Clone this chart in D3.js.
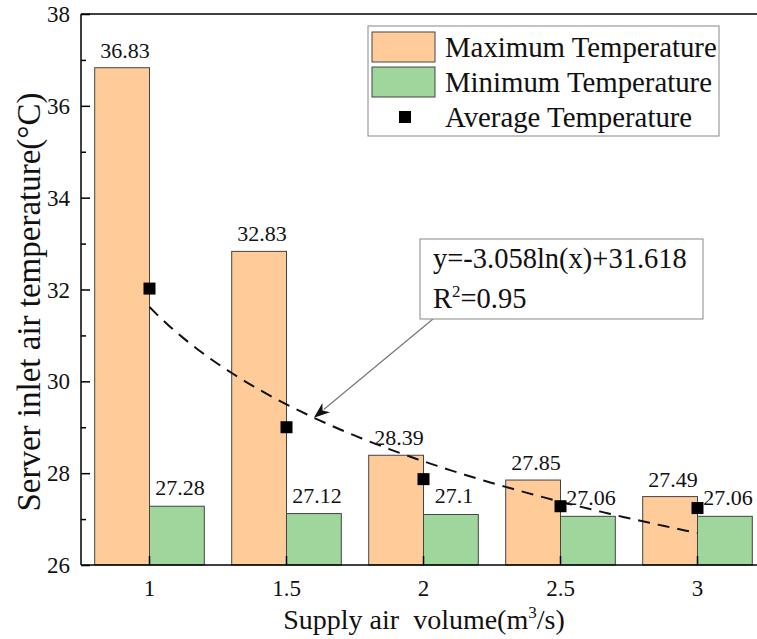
<!DOCTYPE html>
<html>
<head>
<meta charset="utf-8">
<script src="https://cdn.jsdelivr.net/npm/d3@7"></script>
<style>
  html, body { margin: 0; padding: 0; background: #fff; }
  svg { display: block; }
</style>
</head>
<body>
<svg id="chart" width="757" height="639" font-family="'Liberation Serif', 'Times New Roman', Times, serif"></svg>
<script>
// ---- data ----
const categories = ["1", "1.5", "2", "2.5", "3"];
const maxTemp = [36.83, 32.83, 28.39, 27.85, 27.49];
const minTemp = [27.28, 27.12, 27.1, 27.06, 27.06];
const avgTemp = [32.02, 29.0, 27.87, 27.28, 27.24];
const yTicks = [26, 28, 30, 32, 34, 36, 38];
const yMinorTicks = [27, 29, 31, 33, 35, 37];
const fitA = -3.058, fitB = 31.618; // y = a ln(x) + b, x = group index 1..5
const fitLabel = "y=-3.058ln(x)+31.618";
const legendLabels = ["Maximum Temperature", "Minimum Temperature", "Average Temperature"];

(function () {
// ---- layout ----
const svg = d3.select("#chart");
const pL = 81, pT = 14, pB = 565, pR = 766;
const orange = "#FFCC99", green = "#9ED69B";

const x = d3.scaleBand().domain(categories).range([pL, pR]).paddingInner(0.2).paddingOuter(0.1);
const y = d3.scaleLinear().domain([26, 38]).range([pB, pT]);
const bw = x.bandwidth() / 2;
const cx = c => x(c) + bw;

// bars
const g = svg.append("g");
g.selectAll(".bmax").data(categories).join("rect")
  .attr("x", c => x(c)).attr("width", bw)
  .attr("y", (c, i) => y(maxTemp[i])).attr("height", (c, i) => pB - y(maxTemp[i]))
  .attr("fill", orange).attr("stroke", "#444").attr("stroke-width", 1);
g.selectAll(".bmin").data(categories).join("rect")
  .attr("x", c => cx(c)).attr("width", bw)
  .attr("y", (c, i) => y(minTemp[i])).attr("height", (c, i) => pB - y(minTemp[i]))
  .attr("fill", green).attr("stroke", "#444").attr("stroke-width", 1);

// value labels
g.selectAll(".lmax").data(categories).join("text")
  .attr("x", c => x(c) + bw / 2 + 3).attr("y", (c, i) => y(maxTemp[i]) - 10)
  .attr("text-anchor", "middle").attr("font-size", 22).attr("fill", "#111")
  .text((c, i) => maxTemp[i]);
g.selectAll(".lmin").data(categories).join("text")
  .attr("x", c => cx(c) + bw / 2 + 3).attr("y", (c, i) => y(minTemp[i]) - 11)
  .attr("text-anchor", "middle").attr("font-size", 22).attr("fill", "#111")
  .text((c, i) => minTemp[i]);

// trend curve
const xi = d3.scaleLinear().domain([1, categories.length]).range([cx(categories[0]), cx(categories[categories.length - 1])]);
const fitPts = d3.range(1, 5.0001, 0.05).map(t => [xi(t), y(fitA * Math.log(t) + fitB)]);
g.append("path").attr("d", d3.line()(fitPts))
  .attr("fill", "none").attr("stroke", "#111").attr("stroke-width", 2).attr("stroke-dasharray", "12,8");

// average markers
g.selectAll(".avg").data(categories).join("rect")
  .attr("x", c => cx(c) - 6).attr("y", (c, i) => y(avgTemp[i]) - 6)
  .attr("width", 12).attr("height", 12).attr("fill", "#000");

// axes frame
svg.append("line").attr("x1", pL).attr("x2", pR).attr("y1", pT).attr("y2", pT).attr("stroke", "#000").attr("stroke-width", 1.5);
svg.append("line").attr("x1", pR).attr("x2", pR).attr("y1", pT).attr("y2", pB).attr("stroke", "#000").attr("stroke-width", 1.5);

const yAxis = svg.append("g").attr("transform", `translate(${pL},0)`)
  .call(d3.axisRight(y).tickValues(yTicks).tickSize(9).tickFormat(""));
yAxis.select(".domain").attr("stroke-width", 1.5).attr("d", `M0,${pT}V${pB}`);
yAxis.selectAll(".tick line").attr("stroke-width", 1.5);
svg.append("g").attr("transform", `translate(${pL},0)`)
  .call(d3.axisRight(y).tickValues(yMinorTicks).tickSize(5).tickFormat(""))
  .call(s => s.select(".domain").remove())
  .selectAll(".tick line").attr("stroke-width", 1.5);
svg.append("g").selectAll("text").data(yTicks).join("text")
  .attr("x", pL - 11).attr("y", d => y(d)).attr("dy", "0.35em")
  .attr("text-anchor", "end").attr("font-size", 23).attr("fill", "#111").text(d => d);

const xAxis = svg.append("g").attr("transform", `translate(0,${pB})`)
  .call(d3.axisTop(x).tickSize(9).tickFormat("").offset(0));
xAxis.selectAll(".tick").attr("transform", c => `translate(${cx(c)},0)`);
xAxis.select(".domain").attr("stroke-width", 1.5).attr("d", `M${pL},0H${pR}`);
xAxis.selectAll(".tick line").attr("stroke-width", 1.5);
svg.append("g").selectAll("text").data(categories).join("text")
  .attr("x", c => cx(c)).attr("y", pB + 31)
  .attr("text-anchor", "middle").attr("font-size", 23).attr("fill", "#111").text(c => c);

// axis titles
const xt = svg.append("text").attr("x", 424).attr("y", 629).attr("text-anchor", "middle")
  .attr("font-size", 28).attr("fill", "#111");
xt.append("tspan").text("Supply air\u00a0\u00a0volume(m");
xt.append("tspan").attr("font-size", 17).attr("dy", -11).text("3");
xt.append("tspan").attr("dy", 11).text("/s)");

svg.append("text").attr("transform", `translate(40,302) rotate(-90)`)
  .attr("text-anchor", "middle").attr("font-size", 33).attr("fill", "#111")
  .text("Server inlet air temperature(°C)");

// legend
const lg = svg.append("g");
lg.append("rect").attr("x", 368).attr("y", 26).attr("width", 351).attr("height", 110)
  .attr("fill", "#fff").attr("stroke", "#888").attr("stroke-width", 1);
lg.append("rect").attr("x", 372).attr("y", 32).attr("width", 63).attr("height", 30).attr("fill", orange).attr("stroke", "#444");
lg.append("rect").attr("x", 372).attr("y", 67).attr("width", 63).attr("height", 30).attr("fill", green).attr("stroke", "#444");
lg.append("rect").attr("x", 399).attr("y", 111).attr("width", 12).attr("height", 12).attr("fill", "#000");
lg.selectAll(".lt").data(legendLabels).join("text")
  .attr("x", 445).attr("y", (d, i) => 47 + i * 35).attr("dy", "0.35em")
  .attr("font-size", 28.8).attr("fill", "#111").text(d => d);

// annotation
const tgt = 2.2;
const tx = xi(tgt), ty = y(fitA * Math.log(tgt) + fitB);
const sx = 433, sy = 319;
const ang = Math.atan2(ty - sy, tx - sx);
const ah = 16, aw = 6;
svg.append("line").attr("x1", sx).attr("y1", sy)
  .attr("x2", tx - Math.cos(ang) * ah * 0.8).attr("y2", ty - Math.sin(ang) * ah * 0.8)
  .attr("stroke", "#777").attr("stroke-width", 1.2);
const bx = tx - Math.cos(ang) * ah, by = ty - Math.sin(ang) * ah;
svg.append("path").attr("d",
  `M${tx},${ty}L${bx + Math.sin(ang) * aw},${by - Math.cos(ang) * aw}L${tx - Math.cos(ang) * ah * 0.7},${ty - Math.sin(ang) * ah * 0.7}L${bx - Math.sin(ang) * aw},${by + Math.cos(ang) * aw}Z`)
  .attr("fill", "#111");
svg.append("rect").attr("x", 420).attr("y", 239).attr("width", 283).attr("height", 80)
  .attr("fill", "#fff").attr("stroke", "#888").attr("stroke-width", 1);
svg.append("text").attr("x", 433).attr("y", 268).attr("font-size", 28.5).attr("fill", "#111").text(fitLabel);
const r2 = svg.append("text").attr("x", 433).attr("y", 308).attr("font-size", 28.5).attr("fill", "#111");
r2.append("tspan").text("R");
r2.append("tspan").attr("font-size", 17).attr("dy", -11).text("2");
r2.append("tspan").attr("dy", 11).text("=0.95");
})();
</script>
</body>
</html>
